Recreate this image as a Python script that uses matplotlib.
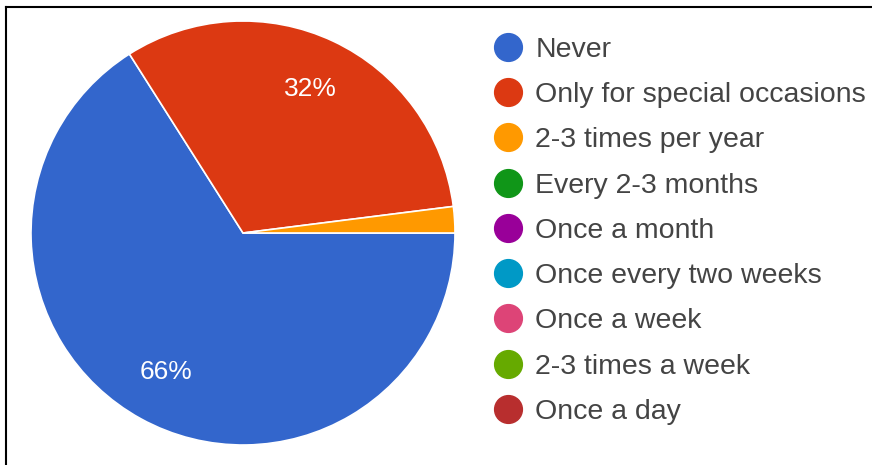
import matplotlib
matplotlib.use("Agg")
import matplotlib.pyplot as plt
from matplotlib.lines import Line2D
import numpy as np

plt.rcParams["font.family"] = ["Liberation Sans", "DejaVu Sans"]

categories = [
    "Never",
    "Only for special occasions",
    "2-3 times per year",
    "Every 2-3 months",
    "Once a month",
    "Once every two weeks",
    "Once a week",
    "2-3 times a week",
    "Once a day",
]
shares = [66, 32, 2, 0, 0, 0, 0, 0, 0]
colors = ["#3366cc", "#dc3912", "#ff9900", "#109618", "#990099",
          "#0099c6", "#dd4477", "#66aa00", "#b82e2e"]

W, H = 872, 465
fig = plt.figure(figsize=(W / 100, H / 100), dpi=100)
fig.patch.set_facecolor("white")

# pie centred at (243, 233) px with radius 212 px
cx, cy, r = 243, 233, 212
ax = fig.add_axes([(cx - r) / W, (H - cy - r) / H, 2 * r / W, 2 * r / H])

vals = [v for v in shares if v > 0]
cols = [c for v, c in zip(shares, colors) if v > 0]
ax.pie(vals, colors=cols, startangle=0, counterclock=False,
       radius=1.0, wedgeprops=dict(edgecolor="white", linewidth=1.2))

# percentage labels for the large slices
total = sum(vals)
start = 0.0
for v in vals:
    sweep = 360.0 * v / total
    mid = np.deg2rad(start - sweep / 2)
    if v / total >= 0.05:
        ax.text(0.75 * np.cos(mid), 0.75 * np.sin(mid), f"{round(100 * v / total)}%",
                ha="center", va="center", color="white", fontsize=19)
    start -= sweep
ax.set_xlim(-1, 1)
ax.set_ylim(-1, 1)
ax.set_aspect("equal")
ax.axis("off")

handles = [Line2D([0], [0], marker="o", linestyle="none", markersize=20,
                  markerfacecolor=c, markeredgecolor=c) for c in colors]
leg = fig.legend(handles, categories, loc="upper left",
                 bbox_to_anchor=(491 / W, 1 - 37 / H), frameon=False,
                 fontsize=20.5, labelspacing=0.675, handletextpad=0.35,
                 handlelength=1.2, borderaxespad=0, borderpad=0)
for t in leg.get_texts():
    t.set_color("#444444")

# frame lines along top and left
fig.add_artist(Line2D([6 / W, 1], [1 - 7 / H, 1 - 7 / H], color="black", linewidth=1.5))
fig.add_artist(Line2D([6 / W, 6 / W], [0, 1 - 7 / H], color="black", linewidth=1.5))

fig.savefig("out.png", dpi=100, facecolor="white")
